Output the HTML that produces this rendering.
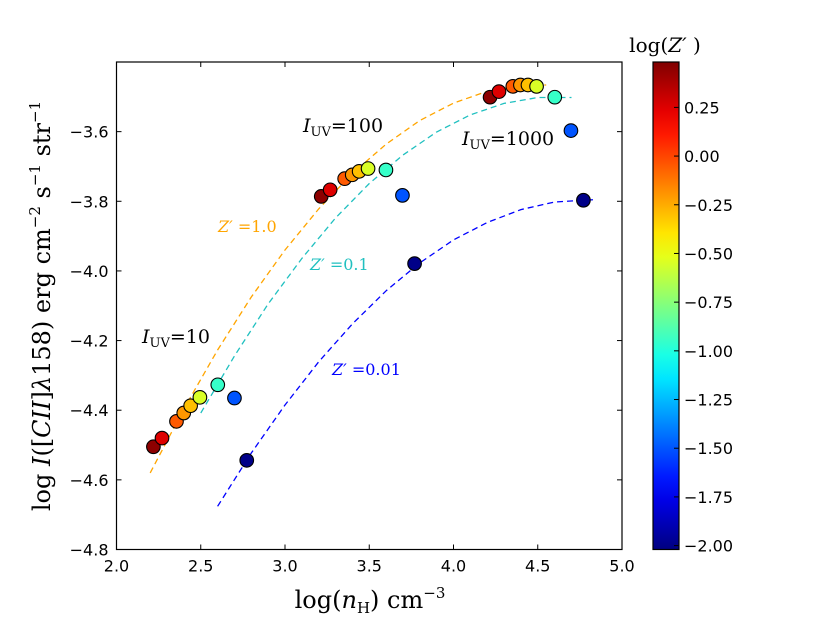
<!DOCTYPE html>
<html><head><meta charset="utf-8"><style>
html,body{margin:0;padding:0;background:#fff;}
svg{display:block;font-family:"DejaVu Sans","Liberation Sans",sans-serif;}
.serif{font-family:"DejaVu Serif","Liberation Serif",serif;}
</style></head><body>
<svg id="chart" width="830" height="626" viewBox="0 0 830 626" xmlns="http://www.w3.org/2000/svg"></svg>
<script>
// ---- data ----
const xTicks = [2.0, 2.5, 3.0, 3.5, 4.0, 4.5, 5.0];
const yTicks = [-4.8, -4.6, -4.4, -4.2, -4.0, -3.8, -3.6];
const cbTicks = [-2.0, -1.75, -1.5, -1.25, -1.0, -0.75, -0.5, -0.25, 0.0, 0.25];
const logZ = [0.45, 0.25, -0.05, -0.2, -0.3, -0.55, -0.95, -1.5, -2.0];
const nH10 = [2.219, 2.27, 2.356, 2.399, 2.44, 2.495, 2.601, 2.70, 2.773];
const cii10 = [-4.505, -4.48, -4.432, -4.408, -4.387, -4.363, -4.327, -4.365, -4.544];
const nH100 = [3.215, 3.268, 3.354, 3.399, 3.44, 3.493, 3.599, 3.697, 3.769];
const cii100 = [-3.786, -3.767, -3.735, -3.724, -3.714, -3.706, -3.710, -3.783, -3.979];
const nH1000 = [4.217, 4.27, 4.352, 4.397, 4.442, 4.493, 4.601, 4.697, 4.771];
const cii1000 = [-3.501, -3.485, -3.470, -3.466, -3.466, -3.470, -3.501, -3.597, -3.797];
const curveZ1x = [2.2, 2.4, 2.6, 2.8, 3.0, 3.2, 3.4, 3.6, 3.8, 4.0, 4.2, 4.4, 4.55];
const curveZ1y = [-4.58, -4.396, -4.227, -4.075, -3.940, -3.822, -3.720, -3.636, -3.568, -3.518, -3.484, -3.467, -3.466];
const curveZ01x = [2.5, 2.7, 2.9, 3.1, 3.3, 3.5, 3.7, 3.9, 4.1, 4.3, 4.5, 4.7];
const curveZ01y = [-4.408, -4.244, -4.095, -3.964, -3.848, -3.749, -3.667, -3.601, -3.552, -3.519, -3.502, -3.502];
const curveZ001x = [2.6, 2.8, 3.0, 3.2, 3.4, 3.6, 3.8, 4.0, 4.2, 4.4, 4.6, 4.85];
const curveZ001y = [-4.676, -4.523, -4.385, -4.261, -4.152, -4.057, -3.977, -3.911, -3.861, -3.824, -3.802, -3.795];

// ---- layout ----
const L=116.5,R=622,T=62,B=549.5;
const xMin=2,xMax=5,yMin=-4.8,yMax=-3.4;
const cbL=653,cbR=679,cbMin=-2.02,cbMax=0.483;
const sx=v=>L+(v-xMin)/(xMax-xMin)*(R-L);
const sy=v=>B-(v-yMin)/(yMax-yMin)*(B-T);
const scb=v=>B-(v-cbMin)/(cbMax-cbMin)*(B-T);
function jet(t){t=Math.max(0,Math.min(1,t));
  const f=x=>Math.round(255*Math.max(0,Math.min(1,x)));
  return `rgb(${f(1.5-Math.abs(4*t-3))},${f(1.5-Math.abs(4*t-2))},${f(1.5-Math.abs(4*t-1))})`;}
const zc=z=>jet((z-cbMin)/(cbMax-cbMin));
const NS='http://www.w3.org/2000/svg';
const svg=document.getElementById('chart');
function mk(tag,attrs,parent){const e=document.createElementNS(NS,tag);for(const k in attrs)e.setAttribute(k,attrs[k]);(parent||svg).appendChild(e);return e;}
const fmt=v=>(v<0?'\u2212':'')+Math.abs(v).toFixed(1);

// plot frame
const frame=mk('rect',{x:L,y:T,width:R-L,height:B-T,fill:'none',stroke:'#000','stroke-width':1.2});



// ticks
xTicks.forEach(v=>{const x=sx(v);
  const t1=mk('line',{x1:x,x2:x,y1:B,y2:B-5,stroke:'#000'});
  
  
  mk('line',{x1:x,x2:x,y1:T,y2:T+5,stroke:'#000'});
  const lb=mk('text',{x:x,y:B+22,'text-anchor':'middle','font-size':16});lb.textContent=v.toFixed(1);
  
  
});
yTicks.forEach(v=>{const y=sy(v);
  const t1=mk('line',{x1:L,x2:L+5,y1:y,y2:y,stroke:'#000'});
  
  
  mk('line',{x1:R,x2:R-5,y1:y,y2:y,stroke:'#000'});
  const lb=mk('text',{x:L-8,y:y+6,'text-anchor':'end','font-size':16});lb.textContent=fmt(v);
  
  
});

// curves
function curve(xs,ys,color,name){
  const d=xs.map((x,i)=>(i?'L':'M')+sx(x).toFixed(1)+' '+sy(ys[i]).toFixed(1)).join(' ');
  const p=mk('path',{d:d,fill:'none',stroke:color,'stroke-width':1.3,'stroke-dasharray':'6,4'});
  
  
}
curve(curveZ1x,curveZ1y,'#ffa500','curve-z-1');
curve(curveZ01x,curveZ01y,'#20c0c0','curve-z-0.1');
curve(curveZ001x,curveZ001y,'#0000ff','curve-z-0.01');

// points
function pts(xs,ys,name){xs.forEach((x,i)=>{
  const c=mk('circle',{cx:sx(x),cy:sy(ys[i]),r:6.8,fill:zc(logZ[i]),stroke:'#000','stroke-width':1.1});
  
  
});}
pts(nH10,cii10,'point-iuv-10');
pts(nH100,cii100,'point-iuv-100');
pts(nH1000,cii1000,'point-iuv-1000');

// annotations
function label(x,y,html,color,name,size){
  const t=mk('text',{x:x,y:y,fill:color,'font-size':size||19,class:'serif'});
  t.innerHTML=html;
  
  
}
label(303,132,'<tspan font-style="italic">I</tspan><tspan font-size="13" dy="4">UV</tspan><tspan dy="-4">=100</tspan>','#000','label-iuv-100');
label(462,145,'<tspan font-style="italic">I</tspan><tspan font-size="13" dy="4">UV</tspan><tspan dy="-4">=1000</tspan>','#000','label-iuv-1000');
label(142,343,'<tspan font-style="italic">I</tspan><tspan font-size="13" dy="4">UV</tspan><tspan dy="-4">=10</tspan>','#000','label-iuv-10');
label(218,232,'<tspan font-style="italic">Z′</tspan> =1.0','#ffa500','label-z-1',16);
label(310,270,'<tspan font-style="italic">Z′</tspan> =0.1','#20c0c0','label-z-0.1',16);
label(332,375,'<tspan font-style="italic">Z′</tspan> =0.01','#0000ff','label-z-0.01',16);

// axis titles
const xt=mk('text',{x:370,y:608,'text-anchor':'middle','font-size':24,class:'serif'});
xt.innerHTML='log(<tspan font-style="italic">n</tspan><tspan font-size="15" dy="5">H</tspan><tspan dy="-5">)  cm</tspan><tspan font-size="15" dy="-10">−3</tspan>';


const yt=mk('text',{x:0,y:0,'text-anchor':'middle','font-size':24,class:'serif',transform:'translate(50,306) rotate(-90)'});
yt.innerHTML='log <tspan font-style="italic">I</tspan>([<tspan font-style="italic">CII</tspan>]<tspan font-style="italic">λ</tspan>158)  erg cm<tspan font-size="15" dy="-10">−2</tspan><tspan dy="10"> s</tspan><tspan font-size="15" dy="-10">−1</tspan><tspan dy="10"> str</tspan><tspan font-size="15" dy="-10">−1</tspan>';



// colorbar
const defs=mk('defs',{});
const g=mk('linearGradient',{id:'jetg',x1:0,y1:1,x2:0,y2:0},defs);
for(let i=0;i<=20;i++){mk('stop',{offset:i/20,'stop-color':jet(i/20)},g);}
const cb=mk('rect',{x:cbL,y:T,width:cbR-cbL,height:B-T,fill:'url(#jetg)',stroke:'#000','stroke-width':1.2});


cbTicks.forEach(v=>{const y=scb(v);
  mk('line',{x1:cbR-5,x2:cbR,y1:y,y2:y,stroke:'#000'});
  const lb=mk('text',{x:cbR+5,y:y+6,'font-size':16});lb.textContent=(v<0?'\u2212':'')+Math.abs(v).toFixed(2);
  
  
});
const cbt=mk('text',{x:665,y:52,'text-anchor':'middle','font-size':20,class:'serif'});
cbt.innerHTML='log(<tspan font-style="italic">Z′</tspan> )';


</script>
</body></html>
